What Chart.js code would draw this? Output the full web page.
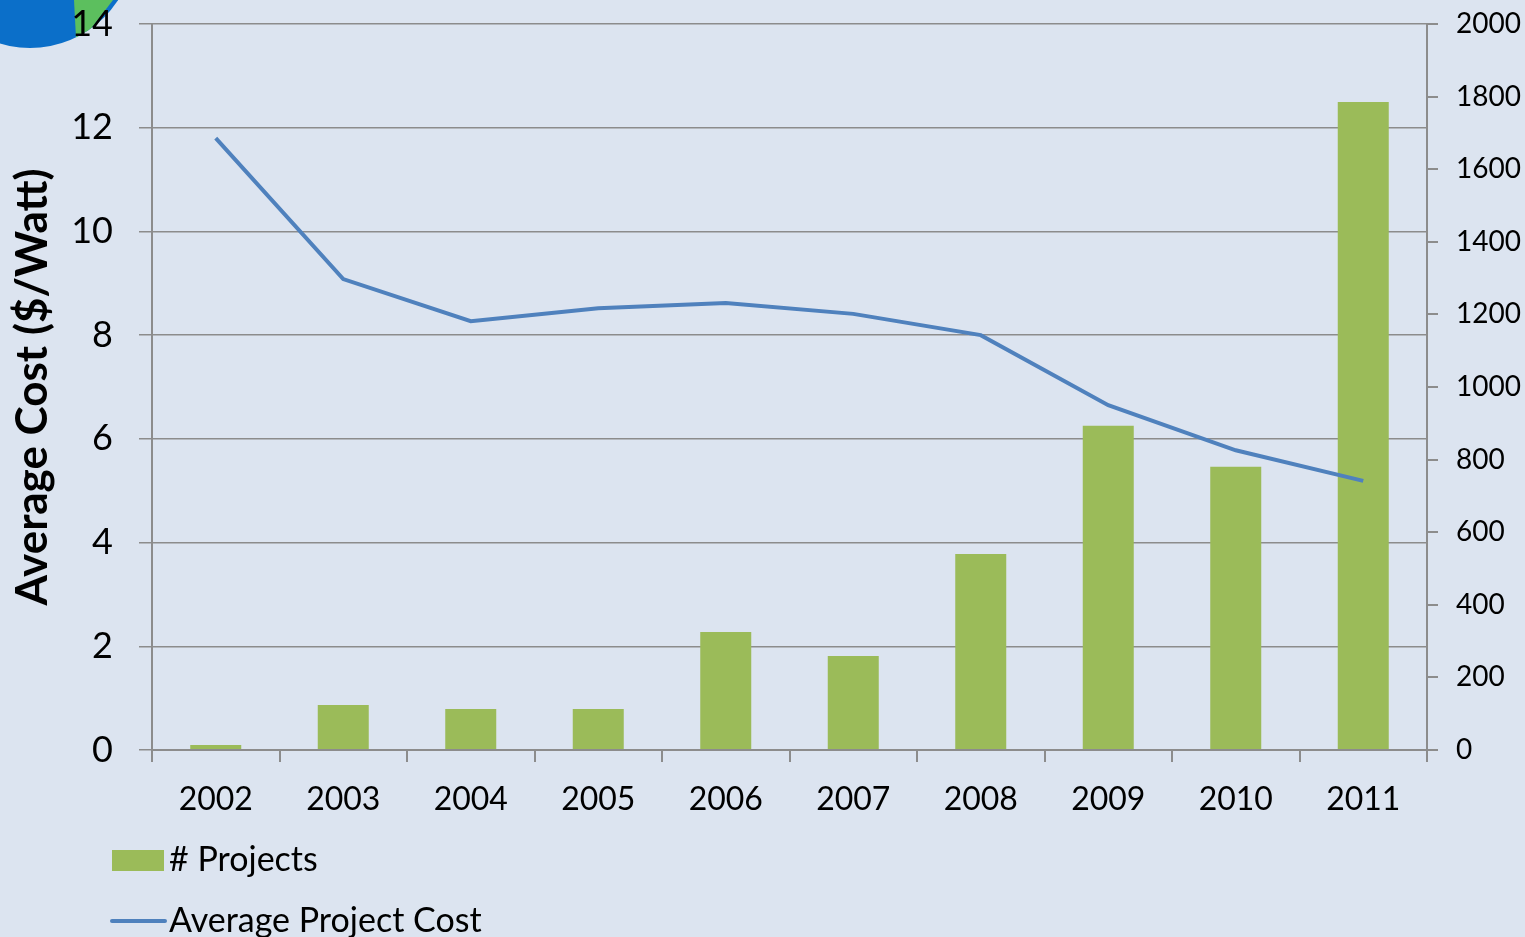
<!DOCTYPE html>
<html>
<head>
<meta charset="utf-8">
<script src="https://cdn.jsdelivr.net/npm/chart.js@4/dist/chart.umd.min.js"></script>
<style>
    html, body { margin: 0; padding: 0; background: #dce4f0; }
    #wrap { position: relative; width: 1525px; height: 937px; }
</style>
</head>
<body>
<div id="wrap"><canvas id="costChart" width="1525" height="937"></canvas></div>
<script>
// Data
const years = ['2002', '2003', '2004', '2005', '2006', '2007', '2008', '2009', '2010', '2011'];
const projects = [14, 124, 113, 113, 325, 259, 540, 893, 780, 1785];
const avgCost = [11.8, 9.08, 8.27, 8.52, 8.62, 8.41, 8.0, 6.65, 5.78, 5.19];

const FONT = 'Lato, "Open Sans", sans-serif';
const GRID = '#8c8c8c';

// Logo fragment in the top-left corner
const logoPlugin = {
    id: 'logo',
    beforeDraw(chart) {
        const ctx = chart.ctx;
        ctx.save();
        ctx.beginPath();
        ctx.arc(30, -57, 105, 0, Math.PI * 2);
        ctx.fillStyle = '#0b6fc9';
        ctx.fill();
        ctx.clip();
        ctx.beginPath();
        ctx.moveTo(74, 0);
        ctx.lineTo(113, 0);
        ctx.lineTo(84, 38);
        ctx.lineTo(76, 38);
        ctx.closePath();
        ctx.fillStyle = '#5cbf5e';
        ctx.fill();
        ctx.restore();
    }
};

// Legend stacked in the bottom-left
const legendPlugin = {
    id: 'stackedLegend',
    afterDraw(chart) {
        const ctx = chart.ctx;
        const ds = chart.data.datasets;
        ctx.save();
        ctx.font = '34px ' + FONT;
        ctx.textBaseline = 'middle';
        // bars
        ctx.fillStyle = ds[1].backgroundColor;
        ctx.fillRect(112, 850, 52, 21);
        ctx.fillStyle = '#000';
        ctx.fillText(ds[1].label, 169, 860);
        // line
        ctx.strokeStyle = ds[0].borderColor;
        ctx.lineWidth = 4;
        ctx.lineCap = 'round';
        ctx.beginPath();
        ctx.moveTo(112, 921);
        ctx.lineTo(165, 921);
        ctx.stroke();
        ctx.fillText(ds[0].label, 169, 921);
        ctx.restore();
    }
};

function noPad(scale) {
    scale.paddingTop = 0;
    scale.paddingBottom = 0;
}

const ctx = document.getElementById('costChart').getContext('2d');
new Chart(ctx, {
    data: {
        labels: years,
        datasets: [{
            type: 'line',
            label: 'Average Project Cost',
            data: avgCost,
            yAxisID: 'y',
            borderColor: '#4f81bd',
            borderWidth: 4,
            pointRadius: 0,
            tension: 0,
            order: 1
        }, {
            type: 'bar',
            label: '# Projects',
            data: projects,
            yAxisID: 'y2',
            backgroundColor: '#9bbb59',
            barPercentage: 0.4,
            categoryPercentage: 1,
            order: 2
        }]
    },
    options: {
        responsive: false,
        animation: false,
        layout: { padding: { top: 24, right: 0, bottom: 0, left: 0 } },
        plugins: {
            legend: { display: false },
            tooltip: { enabled: false }
        },
        scales: {
            x: {
                offset: true,
                grid: { offset: true, drawOnChartArea: false, color: GRID, lineWidth: 2, tickLength: 12 },
                border: { color: GRID, width: 2 },
                ticks: { color: '#000', font: { family: FONT, size: 32 }, padding: 18, maxRotation: 0 },
                afterFit(scale) { scale.height = 187; }
            },
            y: {
                position: 'left',
                min: 0,
                max: 14,
                ticks: { stepSize: 2, color: '#000', font: { family: FONT, size: 36 }, padding: 26 },
                grid: { color: GRID, lineWidth: 1.5, tickLength: 13 },
                border: { color: GRID, width: 2 },
                title: {
                    display: true,
                    text: 'Average Cost ($/Watt)',
                    color: '#000',
                    font: { family: FONT, size: 44, weight: 'bold' },
                    padding: { top: 6, bottom: 0 }
                },
                afterFit(scale) { scale.width = 152; noPad(scale); }
            },
            y2: {
                position: 'right',
                min: 0,
                max: 2000,
                ticks: {
                    stepSize: 200,
                    color: '#000',
                    font: { family: FONT, size: 28 },
                    padding: 18,
                    callback: (v) => String(v)
                },
                grid: { drawOnChartArea: false, color: GRID, lineWidth: 2, tickLength: 11 },
                border: { color: GRID, width: 2 },
                afterFit(scale) { scale.width = 98; noPad(scale); }
            }
        }
    },
    plugins: [logoPlugin, legendPlugin]
});
</script>
</body>
</html>
